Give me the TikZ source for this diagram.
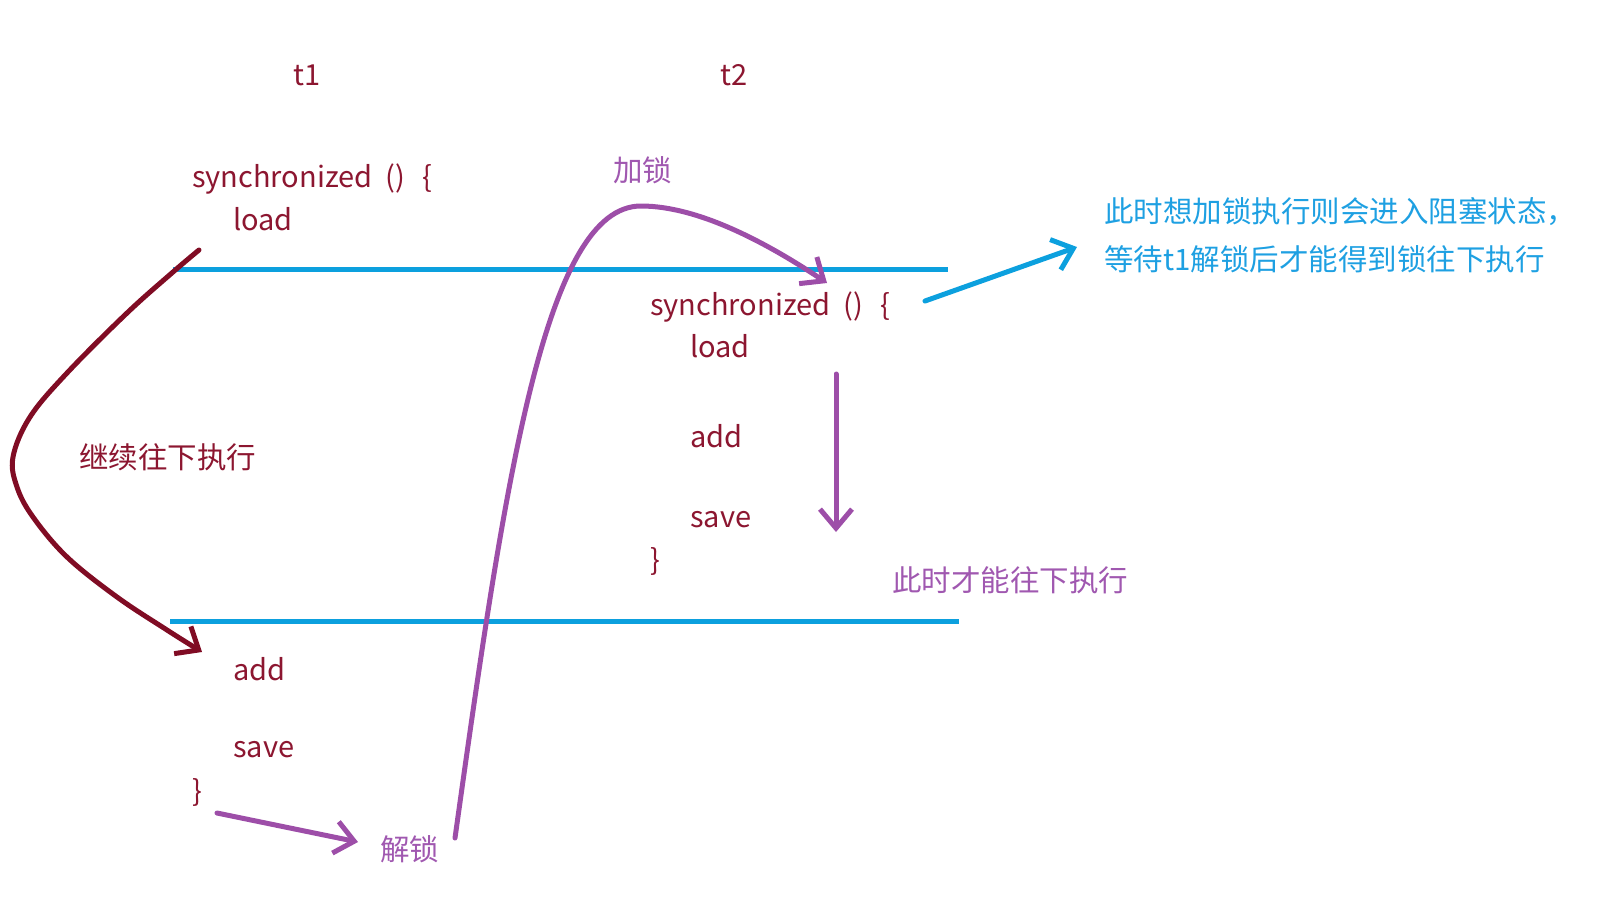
\documentclass[tikz,border=0pt]{standalone}
\usepackage{fontspec}
\setmainfont{Noto Sans CJK SC}
\usepackage{xcolor}
\usepackage{tikz}
\usetikzlibrary{arrows.meta}
\usetikzlibrary{calc,positioning}

\definecolor{codered}{RGB}{140,22,48}
\definecolor{darkred}{RGB}{128,12,36}
\definecolor{lockpurple}{RGB}{157,78,168}
\definecolor{textpurple}{RGB}{160,88,176}
\definecolor{lineblue}{RGB}{12,160,222}
\definecolor{noteblue}{RGB}{30,160,226}

\begin{document}
\begin{tikzpicture}[x=1pt, y=-1pt,
    code/.style={text=codered, anchor=base west, inner sep=0pt, font=\fontsize{29}{35}\selectfont},
    say/.style={anchor=west, inner sep=0pt, font=\fontsize{29.5}{36}\selectfont},
    barb/.style={-{Straight Barb[length=19pt,width=32pt]}, line width=5pt, line cap=round, line join=round}]

    \useasboundingbox (0,0) rectangle (1600,898);

    % Threads
    \node[code] (t1) at (293,85) {t1};
    \node[code] (t2) at (720,85) {t2};

    % t1
    \node[code] (syncA) at (192,187) {synchronized\hspace{13pt}()\hspace{17pt}\{};
    \node[code] (loadA) at (233,230) {load};
    \node[code] (addA) at (233,680) {add};
    \node[code] (saveA) at (233,757) {save};
    \node[code] (closeA) at (192,801) {\}};

    % t2
    \node[code] (syncB) at (650,315) {synchronized\hspace{13pt}()\hspace{17pt}\{};
    \node[code] (loadB) at (690,357) {load};
    \node[code] (addB) at (690,447) {add};
    \node[code] (saveB) at (690,527) {save};
    \node[code] (closeB) at (650,570) {\}};

    % Grenzen
    \draw[lineblue, line width=5pt] (173,269) -- (948,269);
    \draw[lineblue, line width=5pt] (170,621) -- (959,621);

    % Labels
    \node[say, text=codered] (goon) at (79,457) {继续往下执行};
    \node[say, text=textpurple] (lock) at (613,170) {加锁};
    \node[say, text=textpurple] (unlock) at (380,849) {解锁};
    \node[say, text=textpurple] (nowgo) at (892,580) {此时才能往下执行};
    \node[say, text=noteblue] (note1) at (1104,212) {此时想加锁执行则会进入阻塞状态，};
    \node[say, text=noteblue] (note2) at (1104,259) {等待t1解锁后才能得到锁往下执行};

    % t1 loopt door
    \coordinate (redfrom) at (199,250);
    \coordinate (redto) at (202,652);
    \draw[barb, darkred] plot[smooth, tension=0.6] coordinates {(redfrom) (173,272) (127,313) (67,373)
        (30,417) (13,457) (17,487) (33,517) (67,557) (117,597) (167,630) (redto)};

    % Ontgrendelen en weer vergrendelen
    \coordinate (unlockfrom) at (217,813);
    \coordinate (unlockto) at (358,842);
    \draw[barb, lockpurple] (unlockfrom) -- (unlockto);

    \coordinate (lockfrom) at (455,838);
    \coordinate (lockpeak) at (641,206);
    \coordinate (lockto) at (827,283);
    \draw[barb, lockpurple] (lockfrom) .. controls (505,480) and (545,206) .. (lockpeak)
        .. controls (700,206) and (770,245) .. (lockto);

    % t2 loopt door
    \coordinate (downfrom) at (836,374);
    \coordinate (downto) at (836,532);
    \draw[barb, lockpurple] (downfrom) -- (downto);

    % Naar de uitleg
    \coordinate (notefrom) at (925,301);
    \coordinate (noteto) at (1077,247);
    \draw[barb, lineblue] (notefrom) -- (noteto);

\end{tikzpicture}
\end{document}
